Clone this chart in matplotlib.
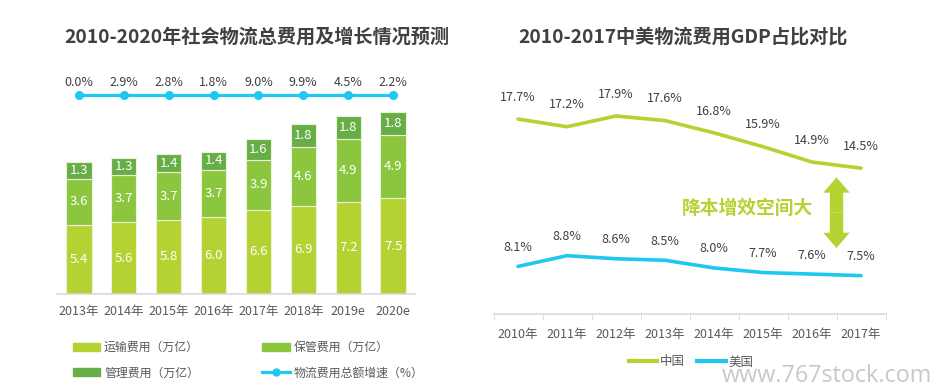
import matplotlib
matplotlib.use("Agg")
import numpy as np
import matplotlib.pyplot as plt
from matplotlib.lines import Line2D
from matplotlib.patches import Patch

plt.rcParams['font.family'] = ['Noto Sans CJK SC', 'DejaVu Sans']

# left chart data
years_l = ["2013年", "2014年", "2015年", "2016年", "2017年", "2018年", "2019e", "2020e"]
transport = [5.4, 5.6, 5.8, 6.0, 6.6, 6.9, 7.2, 7.5]
storage = [3.6, 3.7, 3.7, 3.7, 3.9, 4.6, 4.9, 4.9]
manage = [1.3, 1.3, 1.4, 1.4, 1.6, 1.8, 1.8, 1.8]
growth = ["0.0%", "2.9%", "2.8%", "1.8%", "9.0%", "9.9%", "4.5%", "2.2%"]

# right chart data
years_r = ["2010年", "2011年", "2012年", "2013年", "2014年", "2015年", "2016年", "2017年"]
china = [17.7, 17.2, 17.9, 17.6, 16.8, 15.9, 14.9, 14.5]
usa = [8.1, 8.8, 8.6, 8.5, 8.0, 7.7, 7.6, 7.5]

C_TRANS = "#b4d333"
C_STORE = "#8cc63f"
C_MANAGE = "#67ae47"
C_BLUE = "#1fc8f0"
C_TEXT = "#404040"
C_TICK = "#595959"

W, H = 939, 391
fig = plt.figure(figsize=(W / 100, H / 100), dpi=100)


def px_axes(x0, y_top, x1, y_bot):
    return fig.add_axes([x0 / W, 1 - y_bot / H, (x1 - x0) / W, (y_bot - y_top) / H])


# ---------- left: stacked bars ----------
ax = px_axes(57, 60, 415, 294)
x = np.arange(len(years_l))
bw = 0.56
bottoms = np.zeros(len(x))
for vals, col in [(transport, C_TRANS), (storage, C_STORE), (manage, C_MANAGE)]:
    ax.bar(x, vals, bw, bottom=bottoms, color=col, edgecolor="#eaf3d8", linewidth=0.8)
    for xi, b, v in zip(x, bottoms, vals):
        ax.text(xi, b + v / 2, f"{v:.1f}", ha="center", va="center",
                color="white", fontsize=9.5)
    bottoms = bottoms + np.array(vals)

line_y = 15.55
ax.plot(x, [line_y] * len(x), color=C_BLUE, lw=2.3, marker="o", ms=5.5, zorder=4)
for xi, g in zip(x, growth):
    ax.text(xi, line_y + 0.45, g, ha="center", va="bottom", color=C_TEXT, fontsize=9)

ax.set_xlim(-0.49, 7.49)
ax.set_ylim(0, 234 / 12.8)
ax.set_xticks(x)
ax.set_xticklabels(years_l, fontsize=9, color=C_TICK)
ax.tick_params(axis="x", length=0, pad=8)
ax.set_yticks([])
for s in ["top", "right", "left"]:
    ax.spines[s].set_visible(False)
ax.spines["bottom"].set_color("#d9d9d9")
ax.spines["bottom"].set_linewidth(1.2)

fig.text(257 / W, 1 - 37 / H, "2010-2020年社会物流总费用及增长情况预测",
         ha="center", va="center", fontsize=13.8, fontweight="bold", color=C_TEXT)

handles = [Patch(color=C_TRANS), Patch(color=C_MANAGE), Patch(color=C_STORE),
           Line2D([], [], color=C_BLUE, lw=2.3, marker="o", ms=5)]
labels = ["运输费用（万亿）", "管理费用（万亿）", "保管费用（万亿）", "物流费用总额增速（%）"]
fig.legend(handles, labels, ncol=2, loc="upper left",
           bbox_to_anchor=(73 / W, 1 - 341 / H), frameon=False, fontsize=8.6,
           labelcolor=C_TICK, handlelength=2.3, handleheight=0.65,
           handletextpad=0.3, columnspacing=5.3, labelspacing=1.05,
           borderpad=0, borderaxespad=0)

# ---------- right: lines ----------
ax2 = px_axes(493.5, 60, 885.5, 314)
xr = np.arange(len(years_r))
ax2.plot(xr, china, color=C_TRANS, lw=2.6, solid_capstyle="round")
ax2.plot(xr, usa, color=C_BLUE, lw=2.6, solid_capstyle="round")
for xi, v in zip(xr, china):
    ax2.annotate(f"{v}%", (xi, v), xytext=(0, 11), textcoords="offset points",
                 ha="center", va="bottom", fontsize=9, color=C_TEXT)
for xi, v in zip(xr, usa):
    ax2.annotate(f"{v}%", (xi, v), xytext=(0, 9), textcoords="offset points",
                 ha="center", va="bottom", fontsize=9, color=C_TEXT)

ax2.set_xlim(-0.5, 7.5)
ax2.set_ylim(5.0, 5.0 + 254 / 15.35)
ax2.set_xticks(xr)
ax2.set_xticklabels(years_r, fontsize=9, color=C_TICK)
ax2.set_xticks(np.arange(-0.5, 8.0, 1.0), minor=True)
ax2.tick_params(axis="x", which="major", length=0, pad=10)
ax2.tick_params(axis="x", which="minor", length=4, color="#d9d9d9")
ax2.set_yticks([])
for s in ["top", "right", "left"]:
    ax2.spines[s].set_visible(False)
ax2.spines["bottom"].set_color("#d9d9d9")
ax2.spines["bottom"].set_linewidth(1.2)

# double arrow between the two 2017 levels
arr_x, arr_lo, arr_hi = 6.5, 9.3, 13.9
mid = (arr_lo + arr_hi) / 2
for end in (arr_lo, arr_hi):
    ax2.annotate("", xy=(arr_x, end), xytext=(arr_x, mid),
                 arrowprops=dict(arrowstyle="simple,head_length=0.55,head_width=0.95,tail_width=0.48",
                                 color=C_TRANS, mutation_scale=20, shrinkA=0, shrinkB=0, lw=0))
ax2.text(4.69, 11.9, "降本增效空间大", ha="center", va="center",
         fontsize=13.5, fontweight="bold", color=C_TRANS)

fig.text(683 / W, 1 - 37 / H, "2010-2017中美物流费用GDP占比对比",
         ha="center", va="center", fontsize=13.8, fontweight="bold", color=C_TEXT)

h2 = [Line2D([], [], color=C_TRANS, lw=3), Line2D([], [], color=C_BLUE, lw=3)]
fig.legend(h2, ["中国", "美国"], ncol=2, loc="center",
           bbox_to_anchor=(691 / W, 1 - 362 / H), frameon=False, fontsize=9,
           labelcolor=C_TICK, handlelength=2.3, handletextpad=0.2, columnspacing=1.0)

fig.text(722 / W, 1 - 382 / H, "www.767stock.com", ha="left", va="baseline",
         fontsize=16.8, color="#c8c8c8", family="Open Sans")

fig.savefig("out.png", dpi=100, facecolor="white")
